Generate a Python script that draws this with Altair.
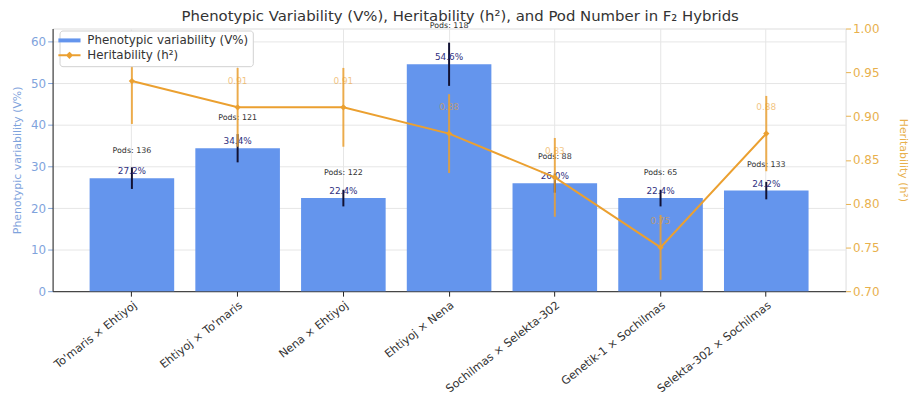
import altair as alt
import pandas as pd

hybrids = ["To'maris × Ehtiyoj", "Ehtiyoj × To'maris", "Nena × Ehtiyoj", "Ehtiyoj × Nena",
           "Sochilmas × Selekta-302", "Genetik-1 × Sochilmas", "Selekta-302 × Sochilmas"]
v_pct = [27.2, 34.4, 22.4, 54.6, 26.0, 22.4, 24.2]
v_err = [2.6, 3.4, 2.0, 5.2, 2.3, 2.0, 2.1]
herit = [0.94, 0.91, 0.91, 0.88, 0.83, 0.75, 0.88]
h_err = [0.049, 0.045, 0.045, 0.045, 0.045, 0.037, 0.043]
pods = [136, 121, 122, 118, 88, 65, 133]

V_LABEL = "Phenotypic variability (V%)"
H_LABEL = "Heritability (h²)"

df = pd.DataFrame({
    "hybrid": hybrids, "v": v_pct, "verr": v_err, "h": herit, "herr": h_err, "pods": pods,
})
df["vser"] = V_LABEL

FONT = "DejaVu Sans"
BLUE = "#6495ED"
ORANGE = "#EBA030"
LBLUE = "#7FA3DC"
GOLD = "#E8B04C"

base = alt.Chart(df)
xenc = alt.X("hybrid:N", sort=hybrids, title=None,
             scale=alt.Scale(paddingInner=0.2, paddingOuter=0.35),
             axis=alt.Axis(labelAngle=-38, labelFontSize=11.3, labelColor="#333", labelFont=FONT,
                           domainColor="#222", tickColor="#222", bandPosition=0.5,
                           grid=True, gridColor="#e6e6e6", labelPadding=3))

yl_scale = alt.Scale(domain=[0, 63.2], nice=False)
yr_scale = alt.Scale(domain=[0.7, 1.0], nice=False)
yl_axis = alt.Axis(values=[0, 10, 20, 30, 40, 50, 60], labelColor=LBLUE, titleColor=LBLUE,
                   tickColor=LBLUE, domainColor="#222", labelFontSize=12, titleFontSize=11,
                   titleFontWeight="normal", labelFont=FONT, titleFont=FONT,
                   gridColor="#e6e6e6", titlePadding=8)
yr_axis = alt.Axis(orient="right", values=[0.70, 0.75, 0.80, 0.85, 0.90, 0.95, 1.00], format=".2f",
                   labelColor=GOLD, titleColor=GOLD, tickColor=GOLD, domain=False,
                   labelFontSize=12, titleFontSize=11, titleFontWeight="normal",
                   labelFont=FONT, titleFont=FONT, gridColor="#ececec", titlePadding=19)


def yl(field):
    return alt.Y(field, scale=yl_scale, title=V_LABEL, axis=yl_axis)


def yr(field):
    return alt.Y(field, scale=yr_scale, title=H_LABEL, axis=yr_axis)


xs = alt.X("hybrid:N", sort=hybrids, title=None)

path_rect = "M-1,-0.18H1V0.18H-1Z"
path_line = "M-1,0H1M0,-0.2L0.2,0L0,0.2L-0.2,0Z"
is_h = f"datum.value == '{H_LABEL}'"

bars = base.mark_bar(color=BLUE).encode(
    x=xenc,
    y=yl("v:Q"),
    fill=alt.Fill("vser:N", scale=alt.Scale(domain=[V_LABEL, H_LABEL], range=[BLUE, ORANGE]),
                  legend=alt.Legend(title=None, orient="none", legendX=7, legendY=2, labelFontSize=12,
                                    labelFont=FONT, labelColor="#333", symbolSize=500, labelLimit=400,
                                    fillColor="white", strokeColor="#d0d0d0", padding=4,
                                    cornerRadius=3, rowPadding=2, symbolOpacity=1, labelOffset=12,
                                    symbolType=alt.ExprRef(expr=f"{is_h} ? '{path_line}' : '{path_rect}'"),
                                    symbolStrokeColor=alt.ExprRef(expr=f"{is_h} ? '{ORANGE}' : '{BLUE}'"),
                                    symbolStrokeWidth=alt.ExprRef(expr=f"{is_h} ? 2 : 0"))),
)

verr = base.transform_calculate(lo="datum.v - datum.verr", hi="datum.v + datum.verr").mark_rule(
    color="#111133", strokeWidth=2).encode(x=xs, y=yl("lo:Q"), y2="hi:Q")

pct = base.transform_calculate(lbl="format(datum.v, '.1f') + '%'").mark_text(
    baseline="bottom", dy=-2, fontSize=9, font=FONT, color="#303080").encode(
    x=xs, y=yl("v:Q"), text="lbl:N")

podlbl = base.transform_calculate(py="datum.v + datum.verr + 3", lbl="'Pods: ' + datum.pods").mark_text(
    baseline="bottom", fontSize=8, font=FONT, color="#333").encode(
    x=xs, y=yl("py:Q"), text="lbl:N")

left = alt.layer(bars, verr, pct, podlbl)

line = base.mark_line(color=ORANGE, strokeWidth=2).encode(x=xs, y=yr("h:Q"))

herr = base.transform_calculate(lo="datum.h - datum.herr", hi="datum.h + datum.herr").mark_rule(
    color=ORANGE, strokeWidth=2, opacity=0.85).encode(x=xs, y=yr("lo:Q"), y2="hi:Q")

pts = base.mark_point(shape="diamond", filled=True, color=ORANGE, size=40, opacity=1).encode(
    x=xs, y=yr("h:Q"))

hlbl = base.transform_calculate(hy="datum.h + 0.03", lbl="format(datum.h, '.2f')").mark_text(
    baseline="middle", fontSize=9, font=FONT, color=ORANGE, opacity=0.6).encode(
    x=xs, y=yr("hy:Q"), text="lbl:N")

right = alt.layer(line, herr, pts, hlbl)

chart = alt.layer(left, right).resolve_scale(y="independent").properties(
    width=800, height=265,
    autosize=alt.AutoSizeParams(type="none"),
    padding={"left": 45, "top": 19, "right": 65, "bottom": 100},
    title=alt.Title("Phenotypic Variability (V%), Heritability (h²), and Pod Number in F₂ Hybrids",
                    fontSize=15, font=FONT, fontWeight="normal", color="#333", offset=-2,
                    frame="bounds", anchor="middle"),
).configure_view(stroke=None).configure(background="white")

chart.save("out.html", embed_options={"renderer": "svg", "actions": False})
